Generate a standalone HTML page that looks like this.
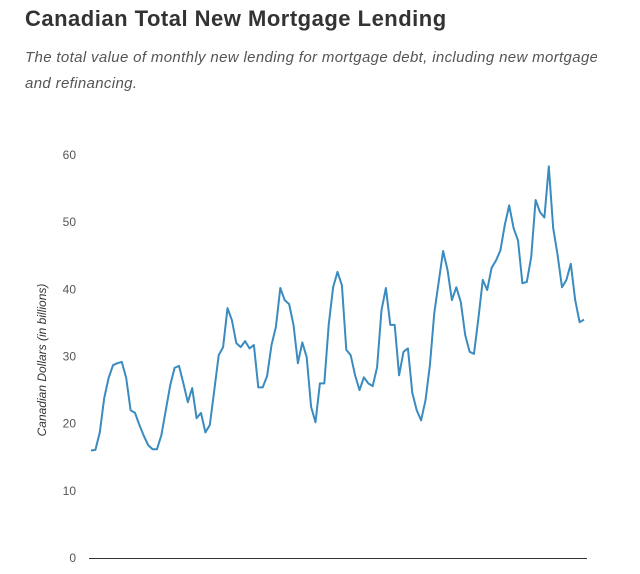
<!DOCTYPE html>
<html><head><meta charset="utf-8"><style>
body{margin:0;background:#fff;width:640px;height:574px;overflow:hidden;font-family:"Liberation Sans",sans-serif}
h1{position:absolute;left:25px;top:6px;margin:0;font-size:22px;font-weight:bold;color:#333;letter-spacing:0.5px}
p{position:absolute;left:25px;top:45px;margin:0;width:572px;font-size:15px;font-style:italic;color:#555;line-height:26px;white-space:nowrap;overflow:hidden;letter-spacing:0.35px}
</style></head><body>
<h1>Canadian Total New Mortgage Lending</h1>
<p>The total value of monthly new lending for mortgage debt, including new mortgages<br>and refinancing.</p>
<svg id="chart" width="640" height="574" style="position:absolute;left:0;top:0"></svg>
<script>
const yTicks=[0,10,20,30,40,50,60];
const yTickLabels=["0","10","20","30","40","50","60"];
const lendingValues=[16,16.1,18.7,23.8,26.8,28.7,29,29.2,26.8,22,21.6,19.8,18.2,16.8,16.2,16.2,18.3,22,25.7,28.3,28.6,26,23.2,25.3,20.8,21.6,18.7,19.8,25,30.2,31.4,37.2,35.4,32,31.4,32.3,31.2,31.7,25.4,25.4,27.1,31.7,34.4,40.2,38.4,37.8,34.7,29,32.1,29.9,22.5,20.2,26,26,34.7,40.3,42.6,40.6,31,30.2,27.2,25,26.9,26,25.6,28.4,36.9,40.2,34.7,34.7,27.2,30.7,31.2,24.6,22,20.5,23.5,28.7,36.5,41.1,45.7,42.9,38.4,40.3,38.1,33.2,30.7,30.4,35.7,41.4,39.9,43.2,44.3,45.8,49.6,52.5,49.1,47.3,40.9,41.1,44.8,53.3,51.5,50.7,58.3,49.1,45.1,40.3,41.4,43.8,38.4,35.1,35.5];
const svg=document.getElementById('chart');
const NS='http://www.w3.org/2000/svg';
const x0=91,x1=584,yBase=558,yTop=155;
const yScale=v=>yBase-(v/60)*(yBase-yTop);
const xScale=i=>x0+i*(x1-x0)/(lendingValues.length-1);
yTicks.forEach((t,i)=>{
 const tx=document.createElementNS(NS,'text');
 
 
 tx.setAttribute('x',76);tx.setAttribute('y',yScale(t)+4);
 tx.setAttribute('text-anchor','end');tx.setAttribute('font-size','12');tx.setAttribute('fill','#555');
 tx.textContent=yTickLabels[i];svg.appendChild(tx);
});
const yt=document.createElementNS(NS,'text');


yt.setAttribute('transform','translate(46,360) rotate(-90)');
yt.setAttribute('text-anchor','middle');yt.setAttribute('font-size','12');yt.setAttribute('font-style','italic');yt.setAttribute('fill','#333');
yt.textContent='Canadian Dollars (in billions)';svg.appendChild(yt);
const ax=document.createElementNS(NS,'line');


ax.setAttribute('x1',89);ax.setAttribute('x2',587);ax.setAttribute('y1',558.5);ax.setAttribute('y2',558.5);
ax.setAttribute('stroke','#333');ax.setAttribute('stroke-width','1');svg.appendChild(ax);
const pl=document.createElementNS(NS,'polyline');


pl.setAttribute('points',lendingValues.map((v,i)=>xScale(i).toFixed(1)+','+yScale(v).toFixed(1)).join(' '));
pl.setAttribute('fill','none');pl.setAttribute('stroke','#3a8bbf');pl.setAttribute('stroke-width','2');pl.setAttribute('stroke-linejoin','round');
svg.appendChild(pl);
</script>
</body></html>
